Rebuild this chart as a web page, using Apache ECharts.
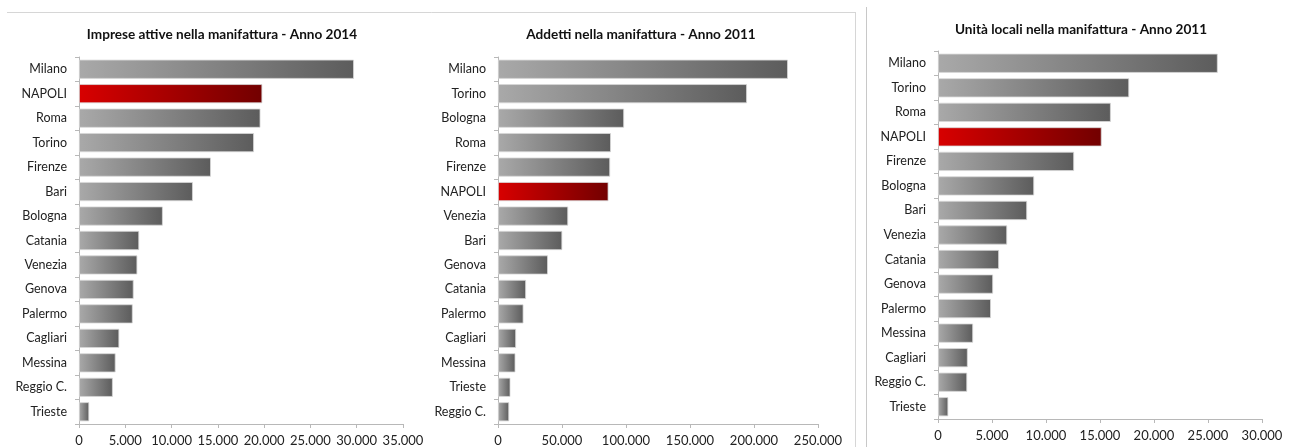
<!DOCTYPE html>
<html>
<head>
<meta charset="utf-8">
<script src="https://cdn.jsdelivr.net/npm/echarts@6/dist/echarts.min.js"></script>
<style>
  html, body { margin: 0; padding: 0; background: #fff; }
  #chart { width: 1294px; height: 447px; }
</style>
</head>
<body>
<div id="chart"></div>
<script>
// Imprese attive nella manifattura - Anno 2014
const impreseCities = ['Milano', 'NAPOLI', 'Roma', 'Torino', 'Firenze', 'Bari', 'Bologna', 'Catania', 'Venezia', 'Genova', 'Palermo', 'Cagliari', 'Messina', 'Reggio C.', 'Trieste']
const impreseValues = [29700, 19800, 19600, 18900, 14250, 12300, 9050, 6500, 6300, 5900, 5800, 4350, 3950, 3650, 1100]

// Addetti nella manifattura - Anno 2011
const addettiCities = ['Milano', 'Torino', 'Bologna', 'Roma', 'Firenze', 'NAPOLI', 'Venezia', 'Bari', 'Genova', 'Catania', 'Palermo', 'Cagliari', 'Messina', 'Trieste', 'Reggio C.']
const addettiValues = [226500, 194500, 98500, 88200, 87600, 86300, 54800, 50200, 39000, 21900, 19900, 14100, 13600, 9700, 8700]

// Unità locali nella manifattura - Anno 2011
const unitaCities = ['Milano', 'Torino', 'Roma', 'NAPOLI', 'Firenze', 'Bologna', 'Bari', 'Venezia', 'Catania', 'Genova', 'Palermo', 'Messina', 'Cagliari', 'Reggio C.', 'Trieste']
const unitaValues = [25900, 17700, 16000, 15150, 12600, 8900, 8250, 6400, 5650, 5100, 4900, 3250, 2750, 2700, 950]

const titles = ['Imprese attive nella manifattura - Anno 2014', 'Addetti nella manifattura - Anno 2011', 'Unità locali nella manifattura - Anno 2011']
const axisMax = [35000, 250000, 30000]
const axisStep = [5000, 50000, 5000]

const chart = echarts.init(document.getElementById('chart'))
const font = 'Lato, "Open Sans", sans-serif'

const grayFill = new echarts.graphic.LinearGradient(0, 0, 1, 0, [
  { offset: 0, color: '#a9a9a9' },
  { offset: 1, color: '#5c5c5c' }
])
const redFill = new echarts.graphic.LinearGradient(0, 0, 1, 0, [
  { offset: 0, color: '#d80000' },
  { offset: 1, color: '#720000' }
])

function thousands(v) {
  return String(v).replace(/\B(?=(\d{3})+(?!\d))/g, '.')
}

function barData(cities, values) {
  return values.map((v, i) => ({
    value: v,
    itemStyle: { color: cities[i] === 'NAPOLI' ? redFill : grayFill }
  }))
}

const grids = [
  { left: 79, top: 57, width: 324, height: 367 },
  { left: 498, top: 57, width: 320, height: 367 },
  { left: 938, top: 51, width: 324, height: 368 }
]
const cities = [impreseCities, addettiCities, unitaCities]
const values = [impreseValues, addettiValues, unitaValues]

chart.setOption({
  animation: false,
  title: [
    { text: titles[0], left: 217, top: 23, textAlign: 'center' },
    { text: titles[1], left: 636, top: 23, textAlign: 'center' },
    { text: titles[2], left: 1076, top: 18, textAlign: 'center' }
  ].map(t => ({
    ...t,
    textStyle: { fontFamily: font, fontSize: 13.6, fontWeight: 'bold', color: '#111' }
  })),
  grid: grids,
  xAxis: grids.map((g, i) => ({
    type: 'value',
    gridIndex: i,
    min: 0,
    max: axisMax[i],
    interval: axisStep[i],
    splitLine: { show: false },
    axisLine: { show: true, lineStyle: { color: '#b8b8b8' } },
    axisTick: { show: true, length: 4, lineStyle: { color: '#b8b8b8' } },
    axisLabel: {
      margin: 10,
      fontFamily: font,
      fontSize: 13,
      color: '#222',
      formatter: thousands
    }
  })),
  yAxis: grids.map((g, i) => ({
    type: 'category',
    gridIndex: i,
    inverse: true,
    data: cities[i],
    axisLine: { show: true, lineStyle: { color: '#b8b8b8' } },
    axisTick: { show: true, length: 4, lineStyle: { color: '#b8b8b8' } },
    axisLabel: {
      margin: 12,
      fontFamily: font,
      fontSize: 12.5,
      color: '#222'
    }
  })),
  series: grids.map((g, i) => ({
    type: 'bar',
    xAxisIndex: i,
    yAxisIndex: i,
    data: barData(cities[i], values[i]),
    barCategoryGap: '22%',
    itemStyle: {
      borderColor: '#d8d8d8',
      borderWidth: 0.8
    }
  })),
  graphic: [
    { type: 'line', shape: { x1: 7, y1: 12.5, x2: 855.5, y2: 12.5 }, style: { stroke: '#d6d6d6', lineWidth: 1 } },
    { type: 'line', shape: { x1: 855.5, y1: 12, x2: 855.5, y2: 447 }, style: { stroke: '#d6d6d6', lineWidth: 1 } },
    { type: 'line', shape: { x1: 866.5, y1: 7, x2: 866.5, y2: 447 }, style: { stroke: '#c8c8c8', lineWidth: 1 } }
  ]
})
</script>
</body>
</html>
